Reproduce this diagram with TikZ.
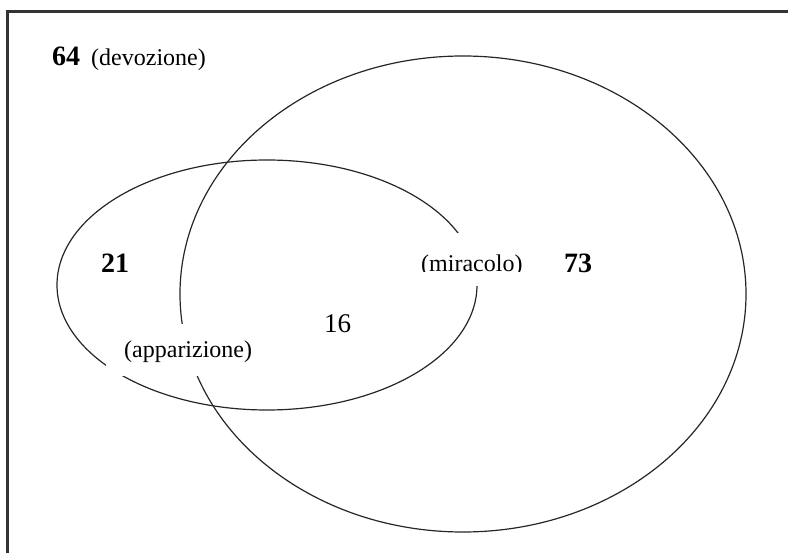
\documentclass[tikz,border=0pt]{standalone}
\usepackage{fontspec}
\setmainfont{Liberation Serif}
\begin{document}
\begin{tikzpicture}[x=1pt,y=-1pt,
  txt/.style={anchor=base west,inner sep=0pt,font=\fontsize{24}{28}\selectfont},
  num/.style={anchor=base west,inner sep=0pt,font=\fontsize{28}{32}\selectfont\bfseries},
  plain/.style={anchor=base west,inner sep=0pt,font=\fontsize{27}{32}\selectfont},
  ring/.style={draw=black!85,line width=1.2pt},
  frame/.style={draw=black!80,line width=2.2pt}]
\useasboundingbox (0,0) rectangle (788,553);
% frame (top and left only)
\coordinate (ftr) at (788,11.5);
\coordinate (ftl) at (7.5,11.5);
\coordinate (fbl) at (7.5,553);
\draw[frame] (ftr) -- (ftl) -- (fbl);
% ellipses
\coordinate (cbig) at (463,294);
\coordinate (csmall) at (267,285);
\draw[ring] (cbig) ellipse [x radius=283, y radius=238];
\draw[ring] (csmall) ellipse [x radius=210, y radius=125];
% label masks
\fill[white] (106,324) rectangle (258,376);
\fill[white] (405,233) rectangle (525,286);
% texts
\node[num] (n64) at (52,66) {64};
\node[txt] (dev) at (91,66) {(devozione)};
\node[num] (n21) at (101,273) {21};
\node[num] (n73) at (564,273) {73};
\node[plain] (n16) at (324,333) {16};
\node[txt] (app) at (124,358) {(apparizione)};
\begin{scope}
\clip (400,240) rectangle (540,272);
\node[txt] (mir) at (421,272) {(miracolo)};
\end{scope}
\end{tikzpicture}
\end{document}
